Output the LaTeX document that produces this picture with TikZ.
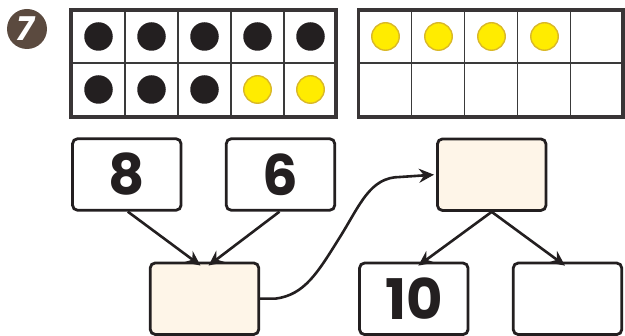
\documentclass[tikz,border=0pt]{standalone}
\usepackage{fontspec}
\setmainfont{Poppins}
\newfontfamily\numfont{Poppins}[UprightFont=* SemiBold,BoldFont=* Bold]
\usetikzlibrary{arrows.meta}
\definecolor{ink}{HTML}{231F20}
\definecolor{gridc}{HTML}{3A3A3A}
\definecolor{cream}{HTML}{FEF5E8}
\definecolor{yel}{HTML}{FFEC00}
\definecolor{yelb}{HTML}{D9B828}
\definecolor{badge}{HTML}{5B4A3F}
\tikzset{
  numbox/.style={draw=ink, line width=2.8pt, rounded corners=5pt, fill=white,
    minimum width=108.5pt, minimum height=71.5pt, inner sep=0pt,
    font=\numfont\bfseries\fontsize{56}{56}\selectfont, text=ink},
  creambox/.style={numbox, fill=cream},
  arr/.style={draw=ink, line width=2.6pt, -{Stealth[length=15pt,width=14pt,inset=5pt]}},
  blackdot/.style={circle, fill=ink, minimum size=28.5pt, inner sep=0pt},
  yeldot/.style={circle, fill=yel, draw=yelb, line width=1.4pt, minimum size=27.5pt, inner sep=0pt},
  gridin/.style={draw=gridc, line width=1.6pt},
  gridout/.style={draw=ink!90, line width=3.2pt}
}
\begin{document}
\begin{tikzpicture}[x=1pt,y=-1pt]
\useasboundingbox (0,0) rectangle (625,336);
% badge
\node[circle, fill=badge, minimum size=40pt, inner sep=0pt, text=white,
  font=\numfont\bfseries\fontsize{33}{33}\selectfont] (badge) at (27,29) {\kern-1pt\textsl{7}};
% frame 1
\foreach \x in {125,178,231,284} \draw[gridin] (\x,10) -- (\x,117);
\draw[gridin] (71,63) -- (336,63);
\draw[gridout] (71,10) rectangle (336,117);
\foreach \i/\x in {1/98.5,2/151.5,3/204.5,4/257.5,5/310.5} \node[blackdot] (d1\i) at (\x,36.5) {};
\foreach \i/\x in {1/98.5,2/151.5,3/204.5} \node[blackdot] (d2\i) at (\x,89.5) {};
\foreach \i/\x in {4/257.5,5/310.5} \node[yeldot] (d2\i) at (\x,89.5) {};
% frame 2
\foreach \x in {411.5,464.5,517.5,570.5} \draw[gridin] (\x,10) -- (\x,117);
\draw[gridin] (358.5,63) -- (623,63);
\draw[gridout] (358.5,10) rectangle (623,117);
\foreach \i/\x in {1/385.5,2/438.5,3/491.5,4/544.5} \node[yeldot] (e1\i) at (\x,36.5) {};
% boxes
\node[numbox] (b8) at (126.8,174.5) {8};
\node[numbox] (b6) at (280.5,174.5) {6};
\node[creambox] (bl) at (204.5,298.7) {};
\node[creambox] (top) at (491.7,174.7) {};
\node[numbox] (b10) at (413.8,298.8) {10};
\node[numbox] (br) at (567.5,298.8) {};
% arrows
\draw[arr] ([xshift=1pt]b8.south) -- ([xshift=-4pt,yshift=-4pt]bl.north);
\draw[arr] ([xshift=-1pt]b6.south) -- ([xshift=4pt,yshift=-4pt]bl.north);
\draw[arr] (top.south) -- ([xshift=4.5pt,yshift=-4pt]b10.north);
\draw[arr] (top.south) -- ([xshift=-2.5pt,yshift=-4pt]br.north);
\draw[arr] (bl.east) -- ++(15,0) .. controls (305,295) and (318,272) .. (340,237)
  .. controls (360,205) and (370,177) .. (400,177) -- ([xshift=-2pt]top.west);
\end{tikzpicture}
\end{document}
